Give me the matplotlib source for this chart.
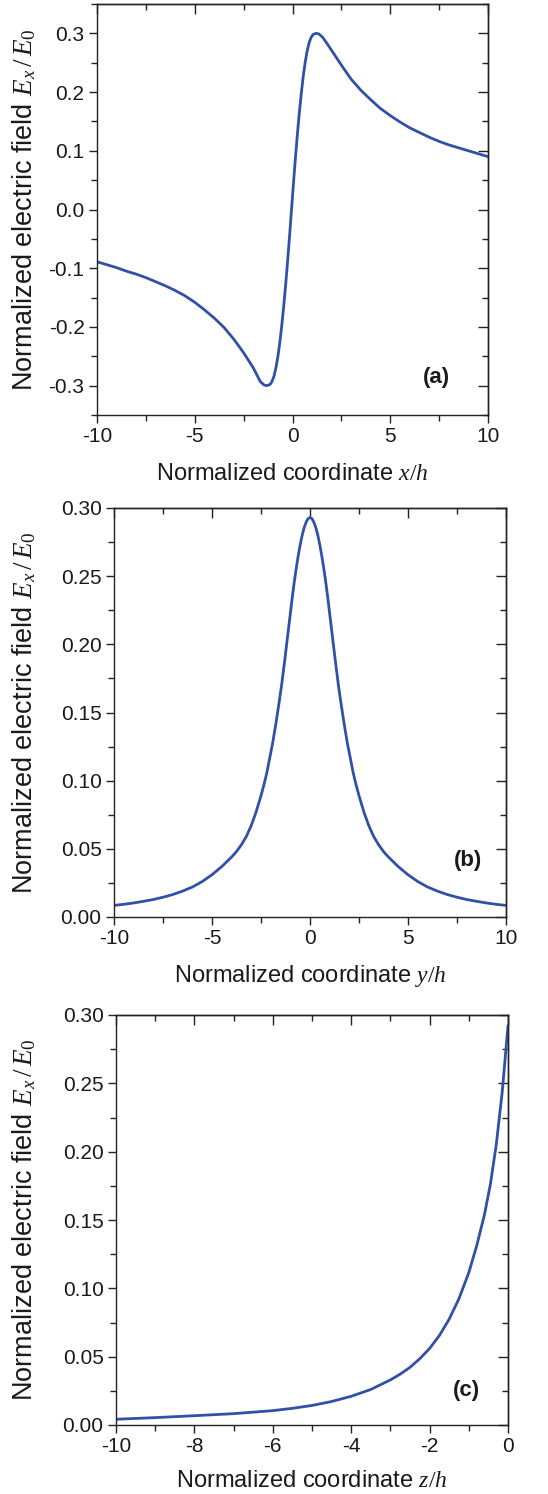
import matplotlib
matplotlib.use('Agg')
import matplotlib.pyplot as plt
from matplotlib.ticker import MultipleLocator, FormatStrFormatter

# ---------------- data ----------------
xa = [-10, -9.5, -9, -8.5, -8, -7.5, -7, -6.5, -6, -5.5, -5, -4.5, -4, -3.5,
      -3, -2.5, -2, -1.65, -1.45, -1.3, -1.15, -1.05, -0.95, -0.85, -0.75,
      -0.65, -0.55, -0.45, -0.35, -0.25, -0.15, -0.05, 0.05, 0.15, 0.25, 0.35,
      0.45, 0.55, 0.65, 0.75, 0.85, 0.95, 1.05, 1.2, 1.35, 1.55, 1.8, 2.0,
      2.3, 2.6, 3.0, 3.5, 4.0, 4.5, 5.0, 5.5, 6.0, 6.5, 7.0, 7.5, 8.0, 8.5,
      9.0, 9.5, 10]
ya = [-0.089, -0.094, -0.099, -0.105, -0.110, -0.116, -0.123, -0.130, -0.138,
      -0.147, -0.158, -0.171, -0.185, -0.201, -0.221, -0.244, -0.270, -0.293,
      -0.299, -0.300, -0.298, -0.293, -0.284, -0.270, -0.251, -0.227, -0.198,
      -0.165, -0.128, -0.088, -0.045, 0.0, 0.045, 0.088, 0.128, 0.165, 0.198,
      0.227, 0.251, 0.270, 0.284, 0.293, 0.298, 0.300, 0.299, 0.293, 0.281,
      0.271, 0.256, 0.241, 0.222, 0.203, 0.187, 0.172, 0.160, 0.149, 0.139,
      0.131, 0.123, 0.116, 0.110, 0.105, 0.100, 0.095, 0.090]

yb_x = [-10, -9.5, -9, -8.5, -8, -7.5, -7, -6.5, -6, -5.5, -5, -4.5, -4,
        -3.75, -3.5, -3.25, -3, -2.75, -2.5, -2.35, -2.2, -2.05, -1.9, -1.75,
        -1.6, -1.45, -1.3, -1.15, -1.0, -0.9, -0.8, -0.7, -0.6, -0.5, -0.4,
        -0.3, -0.2, -0.1, 0, 0.1, 0.2, 0.3, 0.4, 0.5, 0.6, 0.7, 0.8, 0.9, 1.0,
        1.15, 1.3, 1.45, 1.6, 1.75, 1.9, 2.05, 2.2, 2.35, 2.5, 2.75, 3, 3.25,
        3.5, 3.75, 4, 4.5, 5, 5.5, 6, 6.5, 7, 7.5, 8, 8.5, 9, 9.5, 10]
yb_v = [0.0085, 0.0093, 0.0103, 0.0115, 0.0128, 0.0145, 0.0165, 0.019, 0.022,
        0.026, 0.031, 0.037, 0.044, 0.048, 0.053, 0.059, 0.067, 0.077, 0.089,
        0.097, 0.106, 0.117, 0.128, 0.141, 0.155, 0.170, 0.187, 0.205, 0.223,
        0.235, 0.246, 0.256, 0.265, 0.273, 0.280, 0.2855, 0.2895, 0.2922,
        0.293, 0.2922, 0.2895, 0.2855, 0.280, 0.273, 0.265, 0.256, 0.246,
        0.235, 0.223, 0.205, 0.187, 0.170, 0.155, 0.141, 0.128, 0.117, 0.106,
        0.097, 0.089, 0.077, 0.067, 0.059, 0.053, 0.048, 0.044, 0.037, 0.031,
        0.026, 0.022, 0.019, 0.0165, 0.0145, 0.0128, 0.0115, 0.0103, 0.0093,
        0.0085]

zc = [-10, -9, -8, -7, -6, -5.5, -5, -4.5, -4, -3.5, -3, -2.75, -2.5, -2.25,
      -2.0, -1.75, -1.5, -1.25, -1.0, -0.8, -0.6, -0.45, -0.3, -0.15, 0]
vc = [0.0042, 0.0054, 0.0068, 0.0083, 0.0105, 0.0122, 0.0143, 0.0172, 0.0210,
      0.026, 0.0330, 0.0372, 0.0422, 0.0485, 0.0560, 0.0655, 0.0775, 0.0925,
      0.1115, 0.131, 0.154, 0.176, 0.205, 0.243, 0.292]

ylabel_txt = r'Normalized electric field $E_{x}\,/\,E_{0}$'
xlabels = [r'Normalized coordinate $x/h$', r'Normalized coordinate $y/h$',
           r'Normalized coordinate $z/h$']
panel_tags = ['(a)', '(b)', '(c)']

# ---------------- style ----------------
plt.rcParams['font.family'] = ['Liberation Sans', 'DejaVu Sans']
plt.rcParams['mathtext.fontset'] = 'custom'
plt.rcParams['mathtext.it'] = 'Liberation Serif:italic'
plt.rcParams['mathtext.rm'] = 'Liberation Serif'
plt.rcParams['axes.unicode_minus'] = False

LINE = '#3150a6'
SPINE = '#222222'
TXT = '#1a1a1a'
W, H = 548, 1494
fig = plt.figure(figsize=(W / 100, H / 100), dpi=100)


def make_axes(l, t, r, b):
    return fig.add_axes([l / W, 1 - b / H, (r - l) / W, (b - t) / H])


def style(ax, xlim, ylim, xmaj, xmin, ymaj, ymin, yfmt, xlabel, tag, tagpos,
          ylab_x, xlab_y):
    ax.set_xlim(*xlim)
    ax.set_ylim(*ylim)
    ax.xaxis.set_major_locator(MultipleLocator(xmaj))
    ax.xaxis.set_minor_locator(MultipleLocator(xmin))
    ax.yaxis.set_major_locator(MultipleLocator(ymaj))
    ax.yaxis.set_minor_locator(MultipleLocator(ymin))
    ax.xaxis.set_major_formatter(FormatStrFormatter('%d'))
    ax.yaxis.set_major_formatter(FormatStrFormatter(yfmt))
    for s in ax.spines.values():
        s.set_linewidth(1.0)
        s.set_color(SPINE)
    ax.tick_params(which='major', direction='out', length=6, width=1.0,
                   color=SPINE, labelsize=15, pad=3, top=False, right=False,
                   labelcolor=TXT)
    ax.tick_params(which='minor', direction='out', length=4, width=1.0,
                   color=SPINE, top=False, right=False)
    # inward ticks on top and right
    sx = ax.secondary_xaxis('top')
    sx.xaxis.set_major_locator(MultipleLocator(xmaj))
    sx.xaxis.set_minor_locator(MultipleLocator(xmin))
    sx.tick_params(which='major', direction='in', length=7, width=1.0,
                   color=SPINE, labeltop=False)
    sx.tick_params(which='minor', direction='in', length=4, width=1.0,
                   color=SPINE)
    sx.spines['top'].set_linewidth(1.0)
    sx.spines['top'].set_color(SPINE)
    sy = ax.secondary_yaxis('right')
    sy.yaxis.set_major_locator(MultipleLocator(ymaj))
    sy.yaxis.set_minor_locator(MultipleLocator(ymin))
    sy.tick_params(which='major', direction='in', length=7, width=1.0,
                   color=SPINE, labelright=False)
    sy.tick_params(which='minor', direction='in', length=4, width=1.0,
                   color=SPINE)
    sy.spines['right'].set_linewidth(1.0)
    sy.spines['right'].set_color(SPINE)

    ax.set_xlabel(xlabel, fontsize=17, color=TXT)
    ax.xaxis.label.set_va('baseline')
    ax.xaxis.set_label_coords(0.5, xlab_y)
    ax.set_ylabel(ylabel_txt, fontsize=19.5, color=TXT)
    ax.yaxis.label.set_va('center')
    ax.yaxis.set_label_coords(ylab_x, 0.5)
    ax.text(tagpos[0], tagpos[1], tag, transform=ax.transAxes, fontsize=16,
            fontweight='bold', ha='center', va='center', color=TXT)


ax1 = make_axes(97, 4, 488, 415)
ax1.plot(xa, ya, color=LINE, lw=2.0, solid_joinstyle='round')
style(ax1, (-10, 10), (-0.35, 0.35), 5, 2.5, 0.1, 0.05, '%.1f', xlabels[0],
      panel_tags[0], (0.869, 0.091), (24 - 97) / 391, -0.158)

ax2 = make_axes(114, 508, 506, 917)
ax2.plot(yb_x, yb_v, color=LINE, lw=2.0, solid_joinstyle='round')
style(ax2, (-10, 10), (0.0, 0.30), 5, 2.5, 0.05, 0.025, '%.2f', xlabels[1],
      panel_tags[1], (0.903, 0.137), (24 - 114) / 392, -0.159)

ax3 = make_axes(116, 1015, 508, 1425)
ax3.plot(zc, vc, color=LINE, lw=2.0, solid_joinstyle='round')
style(ax3, (-10, 0), (0.0, 0.30), 2, 1, 0.05, 0.025, '%.2f', xlabels[2],
      panel_tags[2], (0.893, 0.083), (24 - 116) / 392, -0.152)

fig.savefig('out.png', dpi=100)
